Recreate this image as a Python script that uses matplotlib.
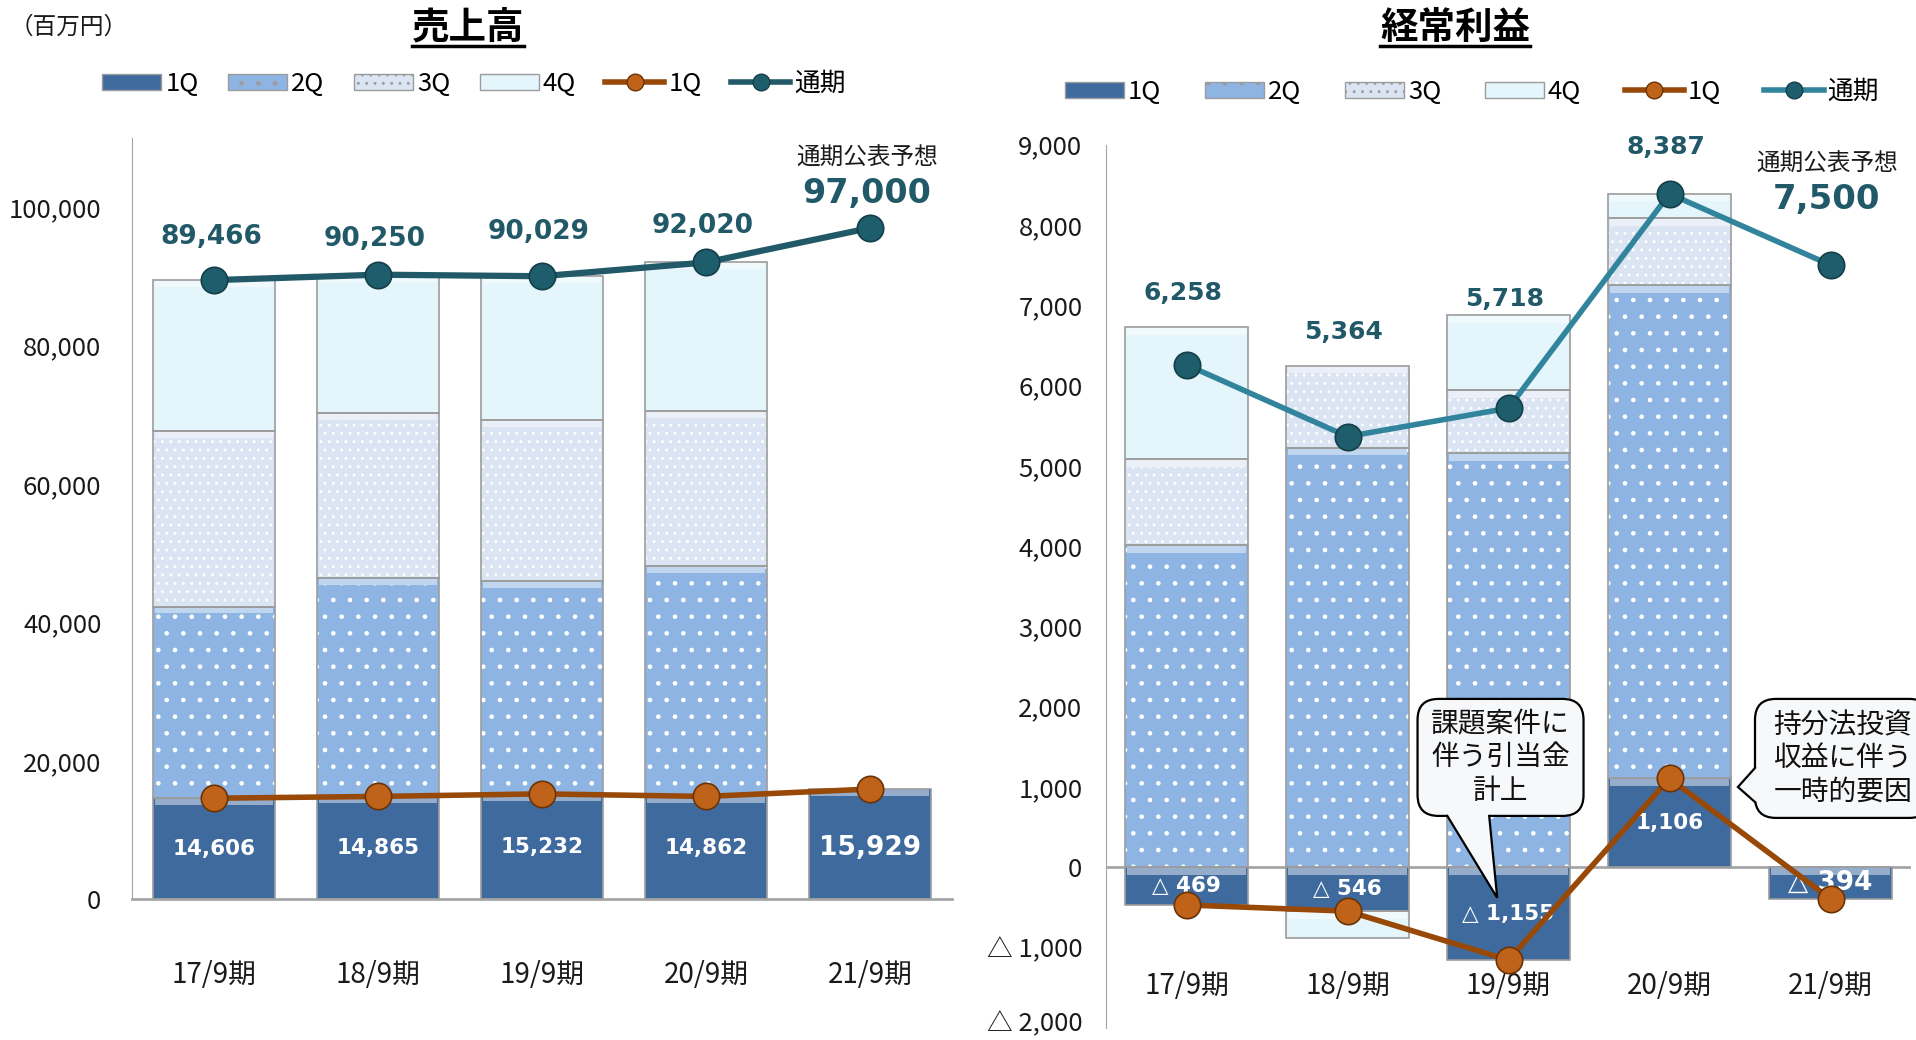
import matplotlib
matplotlib.use('Agg')
import matplotlib.pyplot as plt
import matplotlib.transforms as mtransforms
import numpy as np
from matplotlib.patches import Patch, FancyBboxPatch, Polygon
from matplotlib.lines import Line2D
from matplotlib.colors import to_rgb

plt.rcParams['font.family'] = ['Noto Sans CJK JP', 'DejaVu Sans']
plt.rcParams['hatch.linewidth'] = 0.9

periods = ['17/9期', '18/9期', '19/9期', '20/9期', '21/9期']

# 売上高 (百万円) - quarterly amounts
sales_q1 = [14606, 14865, 15232, 14862, 15929]
sales_q2 = [27700, 31550, 30700, 33340, 0]
sales_q3 = [25400, 23900, 23300, 22380, 0]
sales_q4 = [21760, 19935, 20797, 21438, 0]
sales_total = [89466, 90250, 90029, 92020, 97000]   # last = 通期公表予想

# 経常利益 (百万円) - quarterly amounts
profit_q1 = [-469, -546, -1155, 1106, -394]
profit_q2 = [4010, 5225, 5160, 6144, 0]
profit_q3 = [1070, 1023, 780, 830, 0]
profit_q4 = [1647, -338, 933, 307, 0]
profit_total = [6258, 5364, 5718, 8387, 7500]

# label offsets (pixels above the 通期 marker)
sales_dy = [43, 36, 44, 36, 34]
profit_dy = [72, 105, 109, 47, 66]

Q_COLORS = ['#3F6A9E', '#8DB4E2', '#DAE4F3', '#E4F6FB']
Q_HATCH = [None, '.', '..', None]
EDGE = '#9C9C9C'
BROWN = '#984807'
BROWN_MK = '#C0631A'
TEAL_DARK = '#215968'
TEAL = '#31849B'
LABEL = '#215968'
BOX_FC = '#F7F8FA'

W, H = 1916, 1040
fig = plt.figure(figsize=(W / 100, H / 100), dpi=100)
fig.patch.set_facecolor('white')


def fx(px):
    return px / W


def fy(py):
    return 1 - py / H


def lighten(c, a):
    r = np.array(to_rgb(c))
    return tuple(r + (1 - r) * a)


def stack_bottoms(series_list):
    n = len(series_list[0])
    pos = np.zeros(n)
    neg = np.zeros(n)
    out = []
    for s in series_list:
        s = np.asarray(s, float)
        out.append(np.where(s >= 0, pos, neg))
        pos = pos + np.where(s >= 0, s, 0)
        neg = neg + np.where(s < 0, s, 0)
    return out


def draw_stack(ax, series_list, width, band):
    x = np.arange(len(periods))
    bottoms = stack_bottoms(series_list)
    for k, (s, b) in enumerate(zip(series_list, bottoms)):
        s = np.asarray(s, float)
        m = s != 0
        if Q_HATCH[k]:
            ax.bar(x[m], s[m], width, bottom=b[m], color=Q_COLORS[k],
                   edgecolor='white', linewidth=0, hatch=Q_HATCH[k], zorder=2)
        else:
            ax.bar(x[m], s[m], width, bottom=b[m], color=Q_COLORS[k],
                   linewidth=0, zorder=2)
        # bevel highlight at the upper edge of each segment
        top = np.maximum(b, b + s)
        ax.bar(x[m], -band, width * 0.97, bottom=top[m],
               color=lighten(Q_COLORS[k], 0.45), linewidth=0, zorder=2.5)
        ax.bar(x[m], s[m], width, bottom=b[m], fill=False,
               edgecolor=EDGE, linewidth=1.2, zorder=3)


def legend_handles(total_color):
    hs = []
    for k in range(4):
        hs.append(Patch(facecolor=Q_COLORS[k], edgecolor=EDGE,
                        hatch=Q_HATCH[k] if Q_HATCH[k] else None))
    hs.append(Line2D([], [], color=BROWN, lw=4, marker='o', ms=12,
                     mfc=BROWN_MK, mec='#6B3305'))
    hs.append(Line2D([], [], color=total_color, lw=4, marker='o', ms=12,
                     mfc='#1E5D6B', mec='#143F49'))
    return hs


def callout(ax, text, x0, x1, y0, y1, tail, aspect):
    box = FancyBboxPatch((x0, y0), x1 - x0, y1 - y0,
                         boxstyle='round,pad=0,rounding_size=0.13',
                         mutation_aspect=aspect, fc=BOX_FC, ec='black',
                         lw=1.6, zorder=8, clip_on=False)
    ax.add_patch(box)
    # tail: base points a, b on the box edge and the tip
    (ax_, ay), tip, (bx, by), (ix, iy) = tail
    poly = Polygon([(ax_ + ix, ay + iy), (ax_, ay), tip, (bx, by), (bx + ix, by + iy)],
                   closed=True, fc=BOX_FC, ec='none', zorder=8.5, clip_on=False)
    ax.add_patch(poly)
    ax.plot([ax_, tip[0], bx], [ay, tip[1], by], color='black', lw=1.6,
            zorder=8.6, clip_on=False, solid_joinstyle='miter')
    ax.text((x0 + x1) / 2, (y0 + y1) / 2, text, ha='center', va='center',
            fontsize=20, linespacing=1.15, zorder=9, color='#111111')


labels = ['1Q', '2Q', '3Q', '4Q', '1Q', '通期']
x = np.arange(len(periods))
num_font = ['DejaVu Sans', 'Noto Sans CJK JP']

# ---------------- 売上高 ----------------
ax1 = fig.add_axes([fx(132), fy(899.3), fx(952 - 132), (899.3 - 138) / H])
ax1.set_xlim(-0.5, 4.5)
ax1.set_ylim(0, 110000)
draw_stack(ax1, [sales_q1, sales_q2, sales_q3, sales_q4], 0.74, 1000)
ax1.plot(x, sales_q1, color=BROWN, lw=4, marker='o', ms=19,
         mfc=BROWN_MK, mec='#6B3305', mew=1.2, zorder=5)
ax1.plot(x, sales_total, color=TEAL_DARK, lw=4.5, marker='o', ms=19,
         mfc='#1E5D6B', mec='#143F49', mew=1.2, zorder=5)
ax1.set_yticks(np.arange(0, 100001, 20000))
ax1.set_yticklabels([f'{v:,}' for v in range(0, 100001, 20000)])
ax1.set_xticks([])
ax1.tick_params(axis='y', length=0, pad=22, labelsize=18.5, labelcolor='#1a1a1a')
for s in ['top', 'right']:
    ax1.spines[s].set_visible(False)
ax1.spines['left'].set_color('#A6A6A6')
ax1.spines['bottom'].set_color('#A6A6A6')
ax1.spines['bottom'].set_linewidth(2)
ax1.patch.set_alpha(0)

for i, p in enumerate(periods):
    ax1.text(i, -11000, p, ha='center', va='center', fontsize=20, color='#1a1a1a')

for i, v in enumerate(sales_q1):
    big = i == len(sales_q1) - 1
    ax1.text(i, v / 2 - (600 if big else 0), f'{v:,}', ha='center', va='center',
             color='white', fontweight='bold', family=num_font,
             fontsize=19 if big else 15.5, zorder=6)

for i, v in enumerate(sales_total):
    big = i == len(sales_total) - 1
    ax1.annotate(f'{v:,}', (i, v), xytext=(-3, sales_dy[i]), textcoords='offset pixels',
                 ha='center', va='center', color=LABEL, fontweight='bold',
                 family=num_font, fontsize=24 if big else 19, zorder=6)
ax1.annotate('通期公表予想', (4, sales_total[-1]), xytext=(-3, 70),
             textcoords='offset pixels', ha='center', va='center',
             fontsize=17, color='#1a1a1a')

ax1.legend(legend_handles(TEAL_DARK), labels, loc='center', ncol=6,
           bbox_to_anchor=(fx(474), fy(84)), bbox_transform=fig.transFigure,
           frameon=False, fontsize=18.5, handlelength=2.3, handleheight=0.6,
           handletextpad=0.15, columnspacing=1.15)

# ---------------- 経常利益 ----------------
ax2 = fig.add_axes([fx(1106), fy(1027.9), fx(1911 - 1106), (1027.9 - 144.6) / H])
ax2.set_xlim(-0.5, 4.5)
ax2.set_ylim(-2000, 9000)
draw_stack(ax2, [profit_q1, profit_q2, profit_q3, profit_q4], 0.76, 95)
ax2.axhline(0, color='#A6A6A6', lw=2, zorder=1)
ax2.plot(x, profit_q1, color=BROWN, lw=4, marker='o', ms=19,
         mfc=BROWN_MK, mec='#6B3305', mew=1.2, zorder=5)
ax2.plot(x, profit_total, color=TEAL, lw=4, marker='o', ms=19,
         mfc='#1E5D6B', mec='#143F49', mew=1.2, zorder=5)
yt = np.arange(-2000, 9001, 1000)
ax2.set_yticks(yt)
ax2.set_yticklabels([f'△ {abs(v):,}' if v < 0 else f'{v:,}' for v in yt])
ax2.set_xticks([])
ax2.tick_params(axis='y', length=0, pad=17, labelsize=18.5, labelcolor='#1a1a1a')
for s in ['top', 'right', 'bottom']:
    ax2.spines[s].set_visible(False)
ax2.spines['left'].set_color('#A6A6A6')
ax2.patch.set_alpha(0)
# keep the lowest tick label inside the picture
low = ax2.get_yticklabels()[0]
low.set_transform(low.get_transform() +
                  mtransforms.ScaledTranslation(0, 0.07, fig.dpi_scale_trans))

for i, p in enumerate(periods):
    ax2.text(i, -1480, p, ha='center', va='center', fontsize=20, color='#1a1a1a')

for i, v in enumerate(profit_q1):
    big = i == len(profit_q1) - 1
    txt = f'△ {abs(v):,}' if v < 0 else f'{v:,}'
    ax2.text(i, v / 2, txt, ha='center', va='center', color='white',
             fontweight='bold', family=num_font, fontsize=19 if big else 15.5,
             zorder=4)

for i, v in enumerate(profit_total):
    big = i == len(profit_total) - 1
    ax2.annotate(f'{v:,}', (i, v), xytext=(-4, profit_dy[i]), textcoords='offset pixels',
                 ha='center', va='center', color=LABEL, fontweight='bold',
                 family=num_font, fontsize=24.5 if big else 18, zorder=6)
ax2.annotate('通期公表予想', (4, profit_total[-1]), xytext=(-3, 101),
             textcoords='offset pixels', ha='center', va='center',
             fontsize=17, color='#1a1a1a')

# y-units per x-unit so that the box corners stay round
aspect = (11000 / (1027.9 - 144.6)) / (5 / (1911 - 1106))
callout(ax2, '課題案件に\n伴う引当金\n計上', 1.435, 2.466, 640, 2097,
        [(1.62, 640), (1.93, -381), (1.88, 640), (0, 60)], aspect)
callout(ax2, '持分法投資\n収益に伴う\n一時的要因', 3.531, 4.62, 615, 2097,
        [(3.531, 1237), (3.425, 1000), (3.531, 813), (0.02, 0)], aspect)

ax2.legend(legend_handles(TEAL), labels, loc='center', ncol=6,
           bbox_to_anchor=(fx(1472), fy(92)), bbox_transform=fig.transFigure,
           frameon=False, fontsize=18.5, handlelength=2.3, handleheight=0.6,
           handletextpad=0.15, columnspacing=1.7)

# ---------------- titles ----------------
t1 = fig.text(fx(468), fy(27), '売上高', ha='center', va='center',
              fontsize=27, fontweight='bold')
t2 = fig.text(fx(1455), fy(27), '経常利益', ha='center', va='center',
              fontsize=27, fontweight='bold')
fig.text(fx(10), fy(27), '（百万円）', ha='left', va='center', fontsize=17, color='#1a1a1a')

fig.canvas.draw()
r = fig.canvas.get_renderer()
for t in (t1, t2):
    bb = t.get_window_extent(r)
    yy = 1 - 46 / H
    fig.add_artist(Line2D([bb.x0 / W, bb.x1 / W], [yy, yy], color='black', lw=2.5))

fig.savefig('out.png', dpi=100)
